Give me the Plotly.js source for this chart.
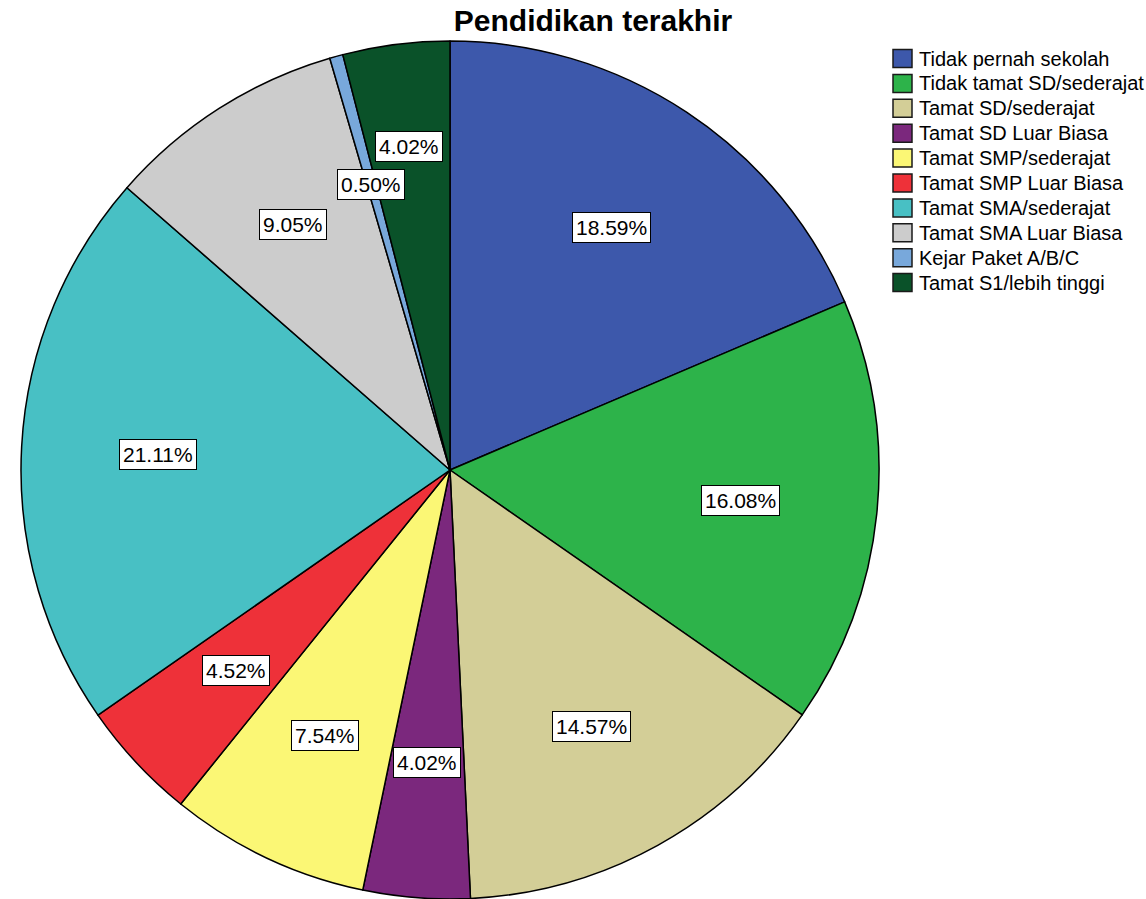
<!DOCTYPE html>
<html>
<head>
<meta charset="utf-8">
<script src="https://cdn.plot.ly/plotly-3.0.1.min.js"></script>
<style>
  html, body { margin: 0; padding: 0; background: #ffffff; }
  #chart { width: 1146px; height: 899px; }
</style>
</head>
<body>
<div id="chart"></div>
<script>
const categories = [
  "Tidak pernah sekolah",
  "Tidak tamat SD/sederajat",
  "Tamat SD/sederajat",
  "Tamat SD Luar Biasa",
  "Tamat SMP/sederajat",
  "Tamat SMP Luar Biasa",
  "Tamat SMA/sederajat",
  "Tamat SMA Luar Biasa",
  "Kejar Paket A/B/C",
  "Tamat S1/lebih tinggi"
];
const percentages = [18.59, 16.08, 14.57, 4.02, 7.54, 4.52, 21.11, 9.05, 0.50, 4.02];
const colors = ["#3D58AB", "#2DB34A", "#D3CE97", "#7B287D", "#FBF775", "#EE3139", "#48C0C4", "#CCCCCC", "#78A8DB", "#0A5229"];

const W = 1146, H = 899;
const cx = 450, cy = 471, R = 430;
const labelFrac = 0.68;
const FONT = "Liberation Sans, Arial, sans-serif";

// Pie domain in paper coordinates (square box around the pie)
const domX = [(cx - R) / W, (cx + R) / W];
const domY = [Math.max(0, 1 - (cy + R) / H), 1 - (cy - R) / H];

// Boxed percentage labels at each slice's mid-angle, pushed outward if they collide
const total = percentages.reduce((a, b) => a + b, 0);
const boxW = 80, boxH = 35;
const placed = [];
let cum = 0;
const annotations = percentages.map((v) => {
  const mid = (cum + v / 2) / total;
  cum += v;
  const ang = mid * 2 * Math.PI;
  let f = labelFrac, px, py;
  for (let k = 0; k < 40; k++) {
    px = cx + f * R * Math.sin(ang);
    py = cy - f * R * Math.cos(ang);
    const hit = placed.some(p => Math.abs(p[0] - px) < boxW && Math.abs(p[1] - py) < boxH + 2);
    if (!hit) break;
    f += 0.01;
  }
  placed.push([px, py]);
  return {
    x: px / W, y: 1 - py / H, xref: "paper", yref: "paper",
    xanchor: "center", yanchor: "middle",
    text: v.toFixed(2) + "%",
    showarrow: false,
    font: { family: FONT, size: 21, color: "#000000" },
    bgcolor: "#ffffff", bordercolor: "#000000", borderwidth: 1, borderpad: 3
  };
});

// Legend (swatch + label), built from categories and colors
const legX = 893, legY0 = 58.5, legStep = 24.9, sw = 19, sh = 18;
const legendShapes = categories.map((c, i) => ({
  type: "rect", xref: "paper", yref: "paper",
  x0: legX / W, x1: (legX + sw) / W,
  y0: 1 - (legY0 + i * legStep + sh / 2) / H, y1: 1 - (legY0 + i * legStep - sh / 2) / H,
  fillcolor: colors[i], line: { color: "#1a1a1a", width: 1.5 }
}));
const legendTexts = categories.map((c, i) => ({
  x: (legX + sw + 5) / W, y: 1 - (legY0 + i * legStep) / H,
  xref: "paper", yref: "paper", xanchor: "left", yanchor: "middle",
  text: c, showarrow: false,
  font: { family: FONT, size: 20, color: "#000000" }
}));

const trace = {
  type: "pie",
  labels: categories,
  values: percentages,
  sort: false,
  direction: "clockwise",
  rotation: 0,
  textinfo: "none",
  hoverinfo: "label+percent",
  marker: { colors: colors, line: { color: "#000000", width: 1.5 } },
  domain: { x: domX, y: domY },
  showlegend: false
};

const layout = {
  width: W, height: H,
  margin: { l: 0, r: 0, t: 0, b: 0 },
  paper_bgcolor: "#ffffff",
  showlegend: false,
  title: {
    text: "Pendidikan terakhir",
    x: 593 / W, xanchor: "center", xref: "paper",
    y: 1 - 20 / H, yanchor: "middle", yref: "container",
    font: { family: FONT, size: 30, color: "#000000", weight: "bold" }
  },
  shapes: legendShapes,
  annotations: annotations.concat(legendTexts)
};

Plotly.newPlot("chart", [trace], layout, { displayModeBar: false, staticPlot: true });
</script>
</body>
</html>
